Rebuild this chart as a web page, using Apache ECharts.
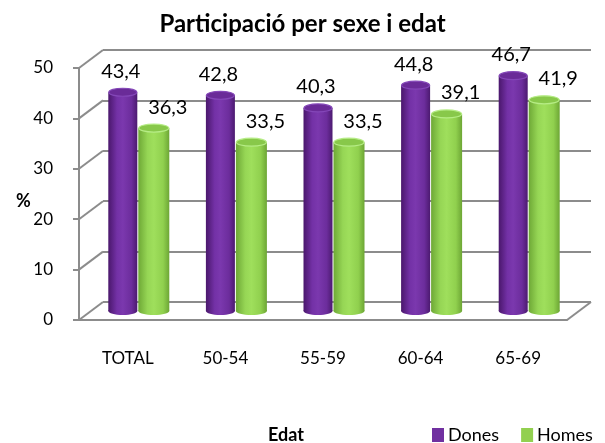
<!DOCTYPE html>
<html><head><meta charset="utf-8">
<script src="https://cdn.jsdelivr.net/npm/echarts@6/dist/echarts.min.js"></script>
<style>html,body{margin:0;padding:0;background:#fff}#c{width:605px;height:443px}</style>
</head><body><div id="c"></div>
<script>
const categories = ['TOTAL', '50-54', '55-59', '60-64', '65-69'];
const dones = [43.4, 42.8, 40.3, 44.8, 46.7];
const homes = [36.3, 33.5, 33.5, 39.1, 41.9];
const yTicks = [0, 10, 20, 30, 40, 50];

const FONT = 'Lato, "Open Sans", sans-serif';
const GRIDC = '#8c8c8c';
const DX = 24, DY = 18;

const chart = echarts.init(document.getElementById('c'));

function fmt(v) { return v.toFixed(1).replace('.', ','); }

function cyl(cfg) {
  return function (params, api) {
    const idx = api.value(0), val = api.value(1);
    const top = api.coord([idx, val]);
    const base = api.coord([idx, 0]);
    const cx = top[0] + cfg.offset;
    const w = cfg.width, ry = 4;
    const body = new echarts.graphic.LinearGradient(0, 0, 1, 0, cfg.stops);
    return {
      type: 'group',
      children: [
        { type: 'ellipse', shape: { cx: cx, cy: base[1], rx: w / 2, ry: ry }, style: { fill: body } },
        { type: 'rect', shape: { x: cx - w / 2, y: top[1], width: w, height: base[1] - top[1] }, style: { fill: body } },
        { type: 'ellipse', shape: { cx: cx, cy: top[1], rx: w / 2 - 0.5, ry: ry }, style: { fill: cfg.topFill, stroke: cfg.rim, lineWidth: 1.2 } },
        { type: 'text', x: cx + cfg.labelDx, y: top[1] - 21,
          style: { text: fmt(val), fill: '#000', font: '20px ' + FONT, align: 'center', verticalAlign: 'middle' } }
      ]
    };
  };
}

const option = {
  animation: false,
  title: [
    { text: 'Participació per sexe i edat', left: 'center', top: 7,
      textStyle: { fontSize: 24, fontWeight: 'bold', fontFamily: FONT, color: '#000' } },
    { text: 'Edat', left: 268, top: 426, padding: 0, textStyle: { fontSize: 18, fontWeight: 'bold', fontFamily: FONT, color: '#000' } },
    { text: '%', left: 11, top: 187, textStyle: { fontSize: 18, fontWeight: 'bold', fontFamily: FONT, color: '#000' } }
  ],
  legend: {
    data: ['Dones', 'Homes'], left: 432, top: 426, width: 175, padding: 0, orient: 'horizontal',
    icon: 'rect', itemWidth: 12, itemHeight: 14, itemGap: 22,
    textStyle: { fontSize: 18, fontFamily: FONT, color: '#000', padding: [0, 0, 0, -1] }
  },
  grid: [
    { left: 79, top: 68, width: 488, height: 252 },
    { left: 79 + DX, top: 68 - DY, width: 488, height: 252 },
    { left: 91, top: 59, width: 488, height: 252 }
  ],
  xAxis: [
    { gridIndex: 0, type: 'category', data: categories,
      axisLine: { lineStyle: { color: GRIDC, width: 2 } },
      axisTick: { length: 6, lineStyle: { color: GRIDC, width: 2 } },
      axisLabel: { margin: 30, fontSize: 17, color: '#000', fontFamily: FONT } },
    { gridIndex: 1, type: 'category', data: categories, show: false },
    { gridIndex: 2, type: 'category', data: categories, show: false }
  ],
  yAxis: [
    { gridIndex: 0, type: 'value', min: 0, max: 50, interval: 10,
      axisLine: { show: true, lineStyle: { color: GRIDC, width: 2 } },
      axisTick: { show: true, length: 6, lineStyle: { color: GRIDC, width: 2 } },
      splitLine: { show: false },
      axisLabel: { margin: 26, fontSize: 17, color: '#000', fontFamily: FONT } },
    { gridIndex: 1, type: 'value', min: 0, max: 50, interval: 10,
      axisLine: { show: false }, axisTick: { show: false }, axisLabel: { show: false },
      splitLine: { lineStyle: { color: GRIDC, width: 2 } } },
    { gridIndex: 2, type: 'value', min: 0, max: 50, show: false, splitLine: { show: false } }
  ],
  series: [
    { type: 'custom', name: 'frame', xAxisIndex: 1, yAxisIndex: 1, silent: true, legendHoverLink: false,
      data: yTicks.map(v => [0, v]),
      renderItem: function (params, api) {
        const cs = params.coordSys;
        const y = api.coord([0, api.value(1)])[1];
        const ch = [{ type: 'line', shape: { x1: cs.x, y1: y, x2: cs.x - DX, y2: y + DY }, style: { stroke: GRIDC, lineWidth: 2 } }];
        if (api.value(1) === 0) {
          ch.push({ type: 'line', shape: { x1: cs.x + cs.width, y1: y, x2: cs.x + cs.width - DX, y2: y + DY }, style: { stroke: GRIDC, lineWidth: 2 } });
        }
        return { type: 'group', children: ch };
      }
    },
    { type: 'custom', name: 'Dones', xAxisIndex: 2, yAxisIndex: 2, itemStyle: { color: '#7030a0' },
      data: dones.map((v, i) => [i, v]),
      renderItem: cyl({ offset: -17, width: 29, labelDx: -2,
        stops: [{ offset: 0, color: '#4a176c' }, { offset: 0.3, color: '#7331a6' }, { offset: 0.5, color: '#7b38ae' }, { offset: 0.8, color: '#6c2d9c' }, { offset: 1, color: '#4c1a70' }],
        topFill: '#6a2b98', rim: '#8447b8' })
    },
    { type: 'custom', name: 'Homes', xAxisIndex: 2, yAxisIndex: 2, itemStyle: { color: '#92d050' },
      data: homes.map((v, i) => [i, v]),
      renderItem: cyl({ offset: 14, width: 31, labelDx: 14,
        stops: [{ offset: 0, color: '#6ea836' }, { offset: 0.3, color: '#96d655' }, { offset: 0.5, color: '#9fdf5c' }, { offset: 0.8, color: '#90d04e' }, { offset: 1, color: '#6da635' }],
        topFill: '#88c84a', rim: '#b6ec86' })
    }
  ]
};
chart.setOption(option);
</script>
</body></html>
